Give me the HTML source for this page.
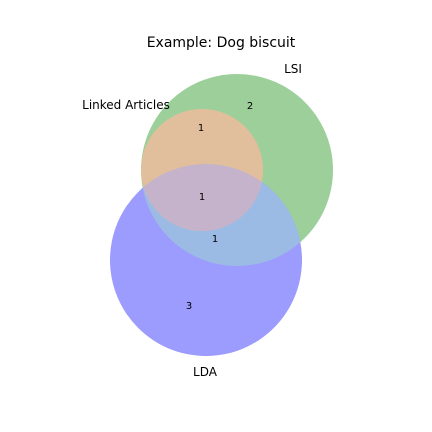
<!DOCTYPE html>
<html><head><meta charset="utf-8"><style>
html,body{margin:0;padding:0;background:#fff;}
svg{display:block;font-family:"DejaVu Sans",sans-serif;}
</style></head><body>
<svg width="432" height="432" viewBox="0 0 432 432" xmlns="http://www.w3.org/2000/svg">
<defs>
<clipPath id="cB"><circle cx="237" cy="170" r="96"/></clipPath>
<clipPath id="cC"><circle cx="206" cy="260" r="96"/></clipPath>
</defs>
<rect width="432" height="432" fill="#fff"/>
<circle cx="237" cy="170" r="96" fill="#9ccf9a"/>
<circle cx="206" cy="260" r="96" fill="#9c9bfe"/>
<circle cx="206" cy="260" r="96" fill="#9bbbe4" clip-path="url(#cB)"/>
<circle cx="202" cy="170" r="61" fill="#e2bf9c"/>
<circle cx="202" cy="170" r="61" fill="#c5b3cb" clip-path="url(#cC)"/>
<text x="221" y="47" font-size="14" text-anchor="middle" fill="#000">Example: Dog biscuit</text>
<text x="293" y="73" font-size="12" text-anchor="middle">LSI</text>
<text x="126" y="109" font-size="12" text-anchor="middle">Linked Articles</text>
<text x="205" y="376" font-size="12" text-anchor="middle">LDA</text>
<g font-size="10" text-anchor="middle">
<text x="250" y="109">2</text>
<text x="201" y="131">1</text>
<text x="202" y="200">1</text>
<text x="215" y="242">1</text>
<text x="189" y="309">3</text>
</g>
</svg>
</body></html>
